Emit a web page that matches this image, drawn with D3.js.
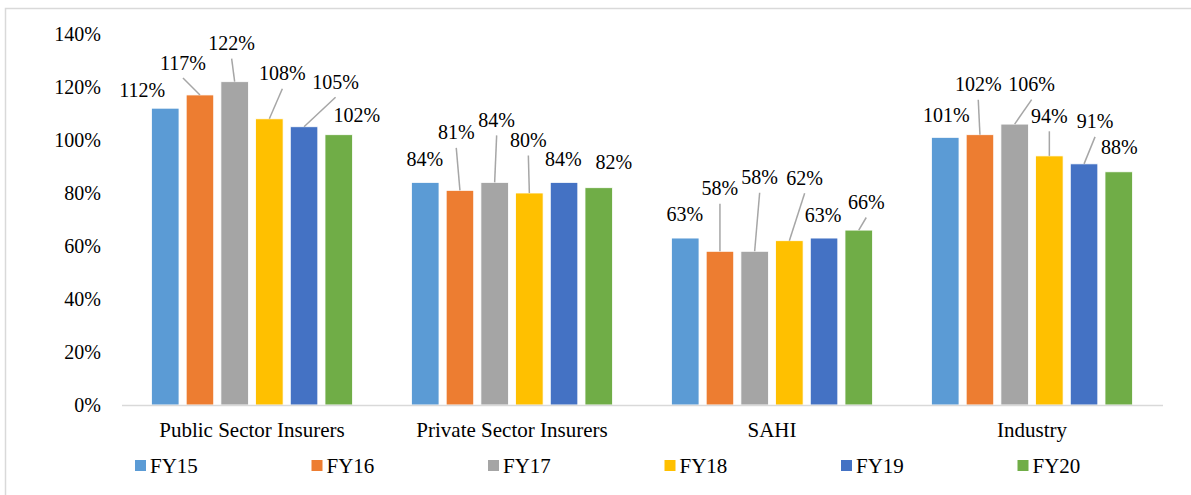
<!DOCTYPE html>
<html>
<head>
<meta charset="utf-8">
<script src="https://cdn.jsdelivr.net/npm/d3@7"></script>
<style>
  html, body { margin: 0; padding: 0; background: #fff; }
  svg { display: block; }
  svg text { font-family: "Liberation Serif", "Times New Roman", serif; fill: #000; }
</style>
</head>
<body>
<svg id="chart" width="1191" height="495"></svg>
<script>
// ---- data ----
const categories = ["Public Sector Insurers", "Private Sector Insurers", "SAHI", "Industry"];
const seriesNames = ["FY15", "FY16", "FY17", "FY18", "FY19", "FY20"];
const fy15 = [112, 84, 63, 101];
const fy16 = [117, 81, 58, 102];
const fy17 = [122, 84, 58, 106];
const fy18 = [108, 80, 62, 94];
const fy19 = [105, 84, 63, 91];
const fy20 = [102, 82, 66, 88];
const yTicks = [0, 20, 40, 60, 80, 100, 120, 140];

// ---- style / layout ----
const colors = ["#5B9BD5", "#ED7D31", "#A5A5A5", "#FFC000", "#4472C4", "#70AD47"];
// manual label nudges (px) per category, per series: [dx, dy(label centre vs bar top), leaderLine]
const labelNudge = [
  [[-23, -18, 0], [-17, -32, 1], [-3, -38, 1], [13, -45, 1], [31.5, -44.5, 1], [18, -19, 0]],
  [[-0.5, -23, 0], [-3.7, -57.5, 1], [2, -62, 1], [-1, -52.5, 1], [-0.8, -23, 0], [15, -25, 0]],
  [[-0.3, -23.5, 0], [0, -62.5, 1], [5, -73.5, 1], [15.3, -62.4, 1], [-1, -22.7, 0], [7.5, -27.6, 1]],
  [[1, -22, 0], [-1.7, -50, 1], [17, -39.5, 1], [0, -39.6, 1], [11, -42, 1], [0.5, -24, 0]]
];

const seriesValues = [fy15, fy16, fy17, fy18, fy19, fy20];
const svg = d3.select("#chart");
const font = "'Liberation Serif', 'Times New Roman', serif";

// outer frame (top + left edges visible)
svg.append("path")
  .attr("d", "M5.5,1000 L5.5,8.5 L1200,8.5")
  .attr("fill", "none").attr("stroke", "#D9D9D9").attr("stroke-width", 1.5);

const x0 = d3.scaleBand().domain(categories).range([122, 1162]).padding(0);
const x1 = d3.scaleBand().domain(seriesNames).range([0, x0.bandwidth()])
  .paddingInner(0.207).paddingOuter(0.85);
const y = d3.scaleLinear().domain([0, 140]).range([405, 34]);

// y axis
const yAxis = svg.append("g").attr("transform", "translate(122,0)")
  .call(d3.axisLeft(y).tickValues(yTicks).tickSize(0).tickPadding(21).tickFormat(d => d + "%"));
yAxis.attr("font-family", null).attr("font-size", null);
yAxis.select(".domain").remove();
yAxis.selectAll("text").style("font-family", font).style("font-size", "20px").style("fill", "#000")
  .attr("dy", "0.33em");

// bars
const groups = svg.append("g").selectAll("g").data(categories).join("g")
  .attr("transform", d => `translate(${x0(d)},0)`);

groups.each(function(cat, ci) {
  const g = d3.select(this);
  seriesNames.forEach((s, si) => {
    const v = seriesValues[si][ci];
    g.append("rect")
      .attr("x", x1(s))
      .attr("y", y(v))
      .attr("width", x1.bandwidth())
      .attr("height", y(0) - y(v))
      .attr("fill", colors[si])
      .attr("stroke", "#fff").attr("stroke-width", 0.8);
  });
});

// baseline
svg.append("line")
  .attr("x1", 122).attr("x2", 1163).attr("y1", y(0) + 0.5).attr("y2", y(0) + 0.5)
  .attr("stroke", "#D9D9D9").attr("stroke-width", 1.6);

// data labels with leader lines
const labelLayer = svg.append("g");
categories.forEach((cat, ci) => {
  seriesNames.forEach((s, si) => {
    const v = seriesValues[si][ci];
    const bx = x0(cat) + x1(s) + x1.bandwidth() / 2;
    const by = y(v);
    const [dx, dy, leader] = labelNudge[ci][si];
    const lx = bx + dx, ly = by + dy;
    if (leader) {
      labelLayer.append("line")
        .attr("x1", lx).attr("y1", ly + 15)
        .attr("x2", bx).attr("y2", by)
        .attr("stroke", "#A6A6A6").attr("stroke-width", 1.5);
    }
    labelLayer.append("text")
      .attr("x", lx).attr("y", ly).attr("dy", "0.33em")
      .attr("text-anchor", "middle")
      .style("font-family", font).style("font-size", "20px").style("fill", "#000")
      .text(v + "%");
  });
});

// category axis
const xAxis = svg.append("g").attr("transform", `translate(0,${y(0)})`)
  .call(d3.axisBottom(x0).tickSize(0));
xAxis.attr("font-family", null).attr("font-size", null);
xAxis.select(".domain").remove();
xAxis.selectAll("text").style("font-family", font).style("font-size", "21px").style("fill", "#000")
  .attr("y", 32).attr("dy", 0);

// legend
const legendX = d3.scalePoint().domain(seriesNames).range([135, 1017.5]);
const legend = svg.append("g").selectAll("g").data(seriesNames).join("g")
  .attr("transform", d => `translate(${legendX(d)},460)`);
legend.append("rect").attr("width", 11).attr("height", 11)
  .attr("fill", (d, i) => colors[i]);
legend.append("text").attr("x", 15).attr("y", 12.5)
  .style("font-family", font).style("font-size", "21px").style("fill", "#000")
  .text(d => d);
</script>
</body>
</html>
